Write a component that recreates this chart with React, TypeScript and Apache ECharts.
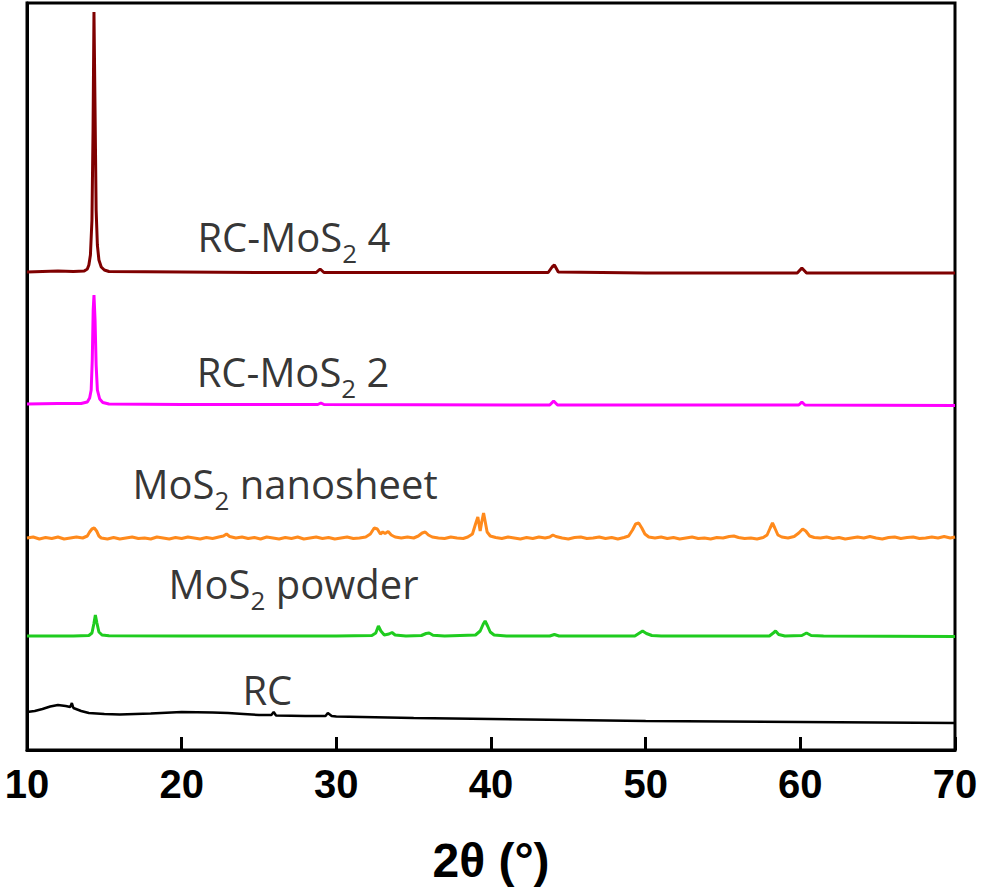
import React, { useEffect, useRef } from "react";
import * as echarts from "echarts";

// 2θ (degrees) vs. offset intensity (a.u.)
const xTicks = [10, 20, 30, 40, 50, 60, 70];

const rcMoS2_4: number[][] = [
  [10, 478], [11, 478.5], [12, 479], [13, 478.5], [13.7, 479], [13.9, 481], [14.0, 485], [14.1, 495],
  [14.2, 530], [14.27, 620], [14.33, 738], [14.4, 640], [14.47, 540], [14.55, 505], [14.65, 490],
  [14.8, 483], [15.0, 480], [15.3, 478.5], [20, 478], [25, 477.5], [28.7, 477.5], [28.95, 481],
  [29.2, 477.5], [35, 477.5], [43.7, 477.5], [43.95, 483], [44.1, 485], [44.35, 478], [50, 477],
  [59.8, 477], [60.1, 482], [60.4, 477], [70, 477],
];

const rcMoS2_2: number[][] = [
  [10, 346], [12, 346.5], [13.5, 346.5], [13.9, 348], [14.05, 352], [14.15, 360], [14.22, 390],
  [14.28, 440], [14.33, 455], [14.4, 430], [14.47, 385], [14.55, 360], [14.7, 351], [14.9, 347.5],
  [15.3, 346], [20, 345.5], [28.8, 345.5], [29.0, 347], [29.2, 345.5], [43.8, 345], [44.05, 349],
  [44.3, 345], [59.9, 345], [60.1, 348], [60.3, 345], [70, 344.5],
];

const nanosheet: number[][] = [
  [10.0, 212], [10.4, 213], [10.8, 211], [11.2, 212.5], [11.6, 211.5], [12.0, 213], [12.4, 211],
  [12.8, 212], [13.2, 213], [13.6, 212], [13.9, 214], [14.05, 218], [14.2, 221], [14.35, 222],
  [14.5, 219], [14.65, 214], [14.8, 212], [15.2, 211], [15.6, 212.5], [16.0, 211], [16.4, 212],
  [16.8, 213], [17.2, 211.5], [17.6, 212], [18.0, 211], [18.4, 213], [18.8, 212], [19.2, 211],
  [19.6, 212.5], [20.0, 211.5], [20.4, 213], [20.8, 212], [21.2, 211], [21.6, 212.5], [22.0, 211.5],
  [22.4, 213], [22.7, 214], [22.9, 216], [23.1, 213.5], [23.5, 212], [23.9, 213], [24.3, 211.5],
  [24.7, 212.5], [25.1, 211], [25.5, 213], [25.9, 212], [26.3, 211], [26.7, 212.5], [27.1, 211.5],
  [27.5, 213], [27.9, 211], [28.3, 212], [28.7, 213], [29.1, 211.5], [29.5, 212.5], [29.9, 211],
  [30.3, 212], [30.7, 213], [31.1, 211.5], [31.5, 212], [31.9, 213], [32.2, 216], [32.45, 222],
  [32.65, 221], [32.85, 216], [33.0, 218], [33.15, 216.5], [33.35, 218.5], [33.55, 215], [33.8, 213],
  [34.2, 212], [34.6, 213], [35.0, 212], [35.3, 214], [35.55, 217], [35.75, 218], [35.95, 215],
  [36.2, 213], [36.6, 212], [37.0, 211.5], [37.4, 213], [37.8, 212], [38.2, 211.5], [38.5, 213],
  [38.8, 216], [39.0, 226], [39.15, 233], [39.3, 219], [39.4, 228], [39.52, 237], [39.63, 228],
  [39.75, 218], [39.95, 214], [40.3, 212.5], [40.7, 211.5], [41.1, 213], [41.5, 212], [41.9, 211],
  [42.3, 212.5], [42.7, 211.5], [43.1, 213], [43.5, 212], [43.8, 213], [44.0, 215], [44.2, 213.5],
  [44.6, 212], [45.0, 211], [45.4, 212.5], [45.8, 213], [46.2, 211.5], [46.6, 212], [47.0, 213],
  [47.4, 211.5], [47.8, 212.5], [48.2, 211], [48.6, 212.5], [48.9, 214], [49.15, 220], [49.35, 226],
  [49.55, 227], [49.75, 222], [49.95, 216], [50.2, 213], [50.6, 212], [51.0, 213], [51.4, 211.5],
  [51.8, 212.5], [52.2, 211], [52.6, 212], [53.0, 213], [53.4, 211.5], [53.8, 212], [54.2, 211],
  [54.6, 212.5], [55.0, 212], [55.4, 213.5], [55.7, 214], [56.0, 212.5], [56.4, 211.5], [56.8, 212],
  [57.2, 211], [57.6, 212.5], [57.85, 215], [58.05, 222], [58.2, 227], [58.35, 222], [58.55, 215],
  [58.8, 213], [59.2, 212], [59.6, 213.5], [59.9, 217], [60.15, 221], [60.35, 219], [60.6, 214],
  [60.9, 212.5], [61.3, 212], [61.7, 213], [62.1, 211.5], [62.5, 212.5], [62.9, 211], [63.3, 212],
  [63.7, 213], [64.1, 212], [64.5, 213.5], [64.9, 212], [65.3, 211], [65.7, 212.5], [66.1, 213],
  [66.5, 211.5], [66.9, 212.5], [67.3, 213], [67.7, 211.5], [68.1, 212], [68.5, 213], [68.9, 212],
  [69.3, 213.5], [69.7, 212], [70.0, 213],
];

const powder: number[][] = [
  [10, 114], [13, 114], [14.0, 114.5], [14.2, 117], [14.32, 126], [14.42, 135], [14.52, 127],
  [14.65, 118], [14.85, 115], [15.3, 114.2], [20, 114], [25, 114], [30, 114], [32.3, 114.5],
  [32.55, 117], [32.72, 124], [32.88, 119], [33.1, 115], [33.4, 116], [33.6, 117.5], [33.8, 115],
  [34.5, 114], [35.5, 114.5], [35.8, 116.5], [36.0, 117], [36.25, 114.8], [37, 114], [39.0, 115],
  [39.3, 119], [39.5, 126], [39.62, 129], [39.78, 124], [39.95, 118], [40.2, 115], [41, 114],
  [43.8, 114], [44.1, 115.5], [44.4, 114], [49.3, 114], [49.6, 117], [49.8, 119], [50.05, 116.5],
  [50.4, 114.5], [51, 114], [58.0, 114], [58.25, 117], [58.4, 119], [58.6, 115.5], [59, 114],
  [60.1, 114.5], [60.4, 117], [60.7, 114.5], [61.5, 114], [70, 113.5],
];

const rc: number[][] = [
  [10, 38], [10.5, 39], [11, 41], [11.5, 43.5], [12, 45], [12.5, 44], [12.8, 43], [12.9, 47],
  [13.0, 42], [13.5, 39], [14, 37], [15, 36], [16, 35.5], [18, 36.5], [20, 38], [22, 37.5],
  [23, 37], [24, 36], [25, 35], [25.8, 35], [25.95, 38], [26.1, 34.5], [28, 34], [29.3, 34],
  [29.45, 37], [29.7, 34], [30, 33.5], [35, 32], [40, 31], [45, 30], [50, 29], [60, 28], [70, 27],
];

const seriesNames = ["RC-MoS2 4", "RC-MoS2 2", "MoS2 nanosheet", "MoS2 powder", "RC"];
const seriesColors = ["#7f0000", "#ff00ff", "#ff8a1c", "#1fcc1f", "#000000"];
const seriesData = [rcMoS2_4, rcMoS2_2, nanosheet, powder, rc];

// label anchors: [2θ, intensity] (left / bottom of text)
const labelTexts = ["RC-MoS{s|2} 4", "RC-MoS{s|2} 2", "MoS{s|2} nanosheet", "MoS{s|2} powder", "RC"];
const labelAnchors: number[][] = [
  [21.05, 492],
  [21.0, 357],
  [16.85, 245],
  [19.18, 145],
  [23.96, 39],
];

export default function App() {
  const ref = useRef<HTMLDivElement>(null);
  useEffect(() => {
    document.body.style.margin = "0";
    const chart = echarts.init(ref.current!, null, { renderer: "svg" });
    const lineSeries = seriesData.map((d, i) => ({
      name: seriesNames[i],
      type: "line",
      data: d,
      showSymbol: false,
      symbol: "none",
      lineStyle: { color: seriesColors[i], width: i === 4 ? 2.5 : 3 },
      z: 2,
    }));
    const labelSeries = {
      type: "scatter",
      symbolSize: 1,
      itemStyle: { color: "rgba(0,0,0,0)" },
      silent: true,
      z: 3,
      data: labelAnchors.map((a, i) => ({
        value: a,
        label: {
          show: true,
          formatter: labelTexts[i],
          position: [0, 0],
          align: "left",
          verticalAlign: "bottom",
          color: "#000",
          fontFamily: "Open Sans",
          fontSize: 40,
          lineHeight: 42,
          rich: {
            s: {
              fontFamily: "Open Sans",
              fontSize: 26,
              lineHeight: 26,
              verticalAlign: "bottom",
              color: "#000",
              padding: [0, 0, -8, 0],
            },
          },
        },
      })),
    };
    chart.setOption({
      animation: false,
      grid: {
        left: 27,
        right: 26,
        top: 3,
        bottom: 145,
        show: true,
        borderColor: "#000",
        borderWidth: 3,
        containLabel: false,
      },
      xAxis: {
        type: "value",
        min: xTicks[0],
        max: xTicks[xTicks.length - 1],
        interval: 10,
        name: "2θ (°)",
        nameLocation: "middle",
        nameGap: 86,
        nameTextStyle: {
          fontFamily: "Liberation Sans, Arial, sans-serif",
          fontWeight: "bold",
          fontSize: 48,
          color: "#000",
        },
        axisLine: { show: true, lineStyle: { color: "#000", width: 3 } },
        axisTick: { show: true, inside: true, length: 13, lineStyle: { color: "#000", width: 3 } },
        axisLabel: {
          show: true,
          margin: 14,
          fontFamily: "Liberation Sans, Arial, sans-serif",
          fontWeight: "bold",
          fontSize: 40,
          color: "#000",
          showMinLabel: true,
          showMaxLabel: true,
        },
        splitLine: { show: false },
      },
      yAxis: {
        type: "value",
        min: 0,
        max: 747,
        axisLine: { show: true, lineStyle: { color: "#000", width: 3 } },
        axisTick: { show: false },
        axisLabel: { show: false },
        splitLine: { show: false },
      },
      series: [...lineSeries, labelSeries],
    });
    return () => chart.dispose();
  }, []);
  return <div ref={ref} style={{ width: 981, height: 895 }} />;
}
